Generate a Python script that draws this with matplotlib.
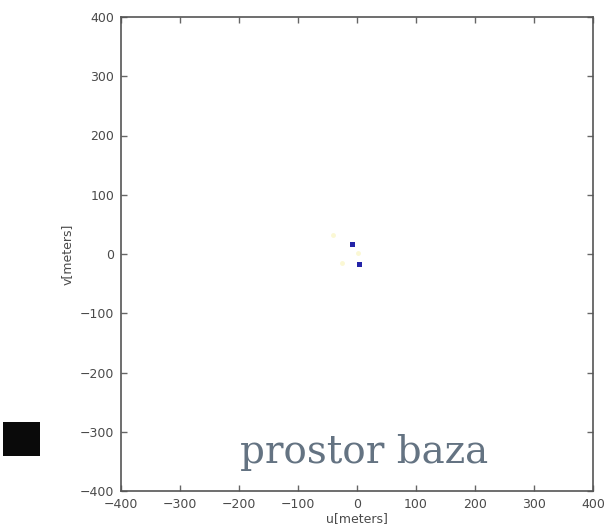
import matplotlib
matplotlib.use("Agg")
import matplotlib.pyplot as plt
import matplotlib.patches as mpatches

# data
blue_u = [-8, 3]
blue_v = [17, -17]
faint_u = [-41, -26, 2]
faint_v = [32, -16, 2]
ticks = [-400, -300, -200, -100, 0, 100, 200, 300, 400]
x_label = "u[meters]"
y_label = "v[meters]"
caption = "prostor baza"

fig = plt.figure(figsize=(6.09, 5.29), dpi=100)
ax = fig.add_axes([121/609, 1-491/529, 472/609, 474/529])

ax.plot(faint_u, faint_v, linestyle='none', marker='o', markersize=3.5,
        color='#fbf8d4', markeredgewidth=0)
ax.plot(blue_u, blue_v, linestyle='none', marker='s', markersize=3.6,
        color='#2424a8', markeredgewidth=0)

ax.set_xlim(-400, 400)
ax.set_ylim(-400, 400)
ax.set_xticks(ticks)
ax.set_yticks(ticks)
ax.tick_params(direction='in', top=True, right=True, length=4, width=1,
               color='#666666', labelsize=9, labelcolor='#4a4a4a', pad=5)
for s in ax.spines.values():
    s.set_color('#555555')
    s.set_linewidth(1.2)
ax.set_xlabel(x_label, fontsize=9, color='#4a4a4a', labelpad=1)
ax.set_ylabel(y_label, fontsize=9, color='#4a4a4a', labelpad=4)

fig.text(240/609, 1-463/529, caption, fontsize=28, family='DejaVu Serif',
         color='#647382', va='baseline', ha='left')

fig.patches.append(mpatches.Rectangle((3/609, 1-456/529), 37/609, 34/529,
                                      transform=fig.transFigure,
                                      facecolor='#0a0a0a', edgecolor='none'))

fig.savefig("out.png", dpi=100)
